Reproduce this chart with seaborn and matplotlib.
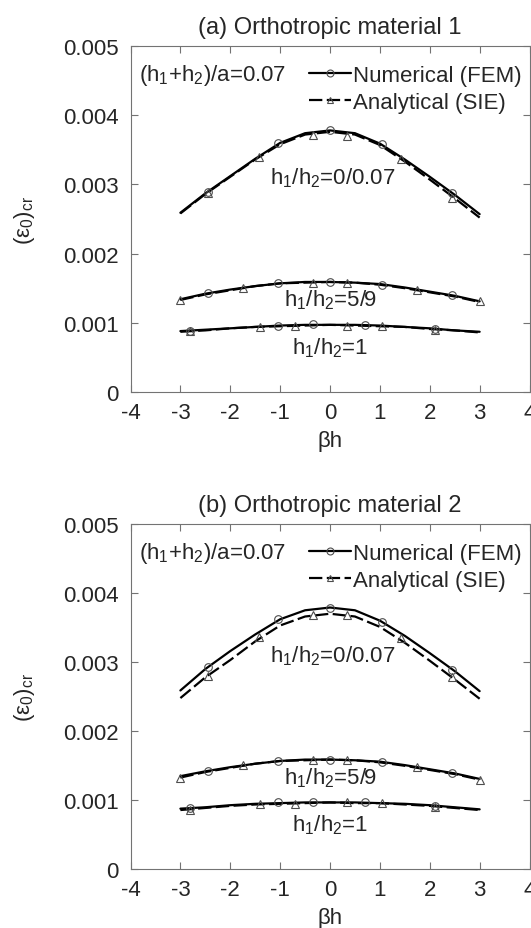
import seaborn as sns
import matplotlib.pyplot as plt
from matplotlib.lines import Line2D

# beta*h values where the curves were sampled
beta_h = [-3, -2.5, -2, -1.5, -1, -0.5, 0, 0.5, 1, 1.5, 2, 2.5, 3]

# (a) orthotropic material 1
a_fem_0 = [0.00259, 0.00287, 0.00312, 0.00337, 0.00360, 0.00374, 0.00378, 0.00374, 0.00359, 0.00336, 0.00311, 0.00285, 0.00257]
a_sie_0 = [0.00258, 0.00286, 0.00311, 0.00336, 0.00358, 0.00372, 0.00376, 0.00372, 0.00357, 0.00333, 0.00307, 0.00280, 0.00252]
a_fem_59 = [0.00134, 0.00142, 0.00148, 0.00153, 0.00157, 0.00159, 0.00159, 0.00158, 0.00156, 0.00151, 0.00145, 0.00139, 0.00131]
a_sie_59 = [0.00133, 0.00141, 0.00147, 0.00153, 0.00157, 0.00158, 0.00159, 0.00158, 0.00155, 0.00150, 0.00144, 0.00138, 0.00130]
a_fem_1 = [0.00088, 0.00090, 0.00092, 0.00094, 0.00096, 0.00097, 0.00097, 0.00097, 0.00096, 0.00094, 0.00092, 0.00089, 0.00087]
a_sie_1 = [0.00087, 0.00089, 0.00092, 0.00094, 0.00095, 0.00096, 0.00097, 0.00096, 0.00095, 0.00094, 0.00091, 0.00089, 0.00086]

# (b) orthotropic material 2
b_fem_0 = [0.00259, 0.00290, 0.00316, 0.00340, 0.00362, 0.00375, 0.00379, 0.00375, 0.00360, 0.00338, 0.00313, 0.00287, 0.00258]
b_sie_0 = [0.00248, 0.00278, 0.00303, 0.00330, 0.00353, 0.00366, 0.00370, 0.00366, 0.00351, 0.00328, 0.00302, 0.00275, 0.00247]
b_fem_59 = [0.00135, 0.00142, 0.00148, 0.00153, 0.00157, 0.00159, 0.00159, 0.00158, 0.00156, 0.00151, 0.00145, 0.00139, 0.00131]
b_sie_59 = [0.00133, 0.00141, 0.00147, 0.00153, 0.00157, 0.00158, 0.00159, 0.00158, 0.00155, 0.00150, 0.00144, 0.00138, 0.00130]
b_fem_1 = [0.00088, 0.00090, 0.00093, 0.00095, 0.00096, 0.00097, 0.00097, 0.00097, 0.00096, 0.00095, 0.00093, 0.00090, 0.00087]
b_sie_1 = [0.00086, 0.00089, 0.00092, 0.00094, 0.00095, 0.00096, 0.00097, 0.00096, 0.00096, 0.00094, 0.00092, 0.00089, 0.00086]

# marker points (FEM = circles, SIE = triangles)
fem_x_0 = [-2.45, -1.05, 0, 1.05, 2.45]
sie_x_0 = [-2.45, -1.42, -0.35, 0.35, 1.42, 2.45]
fem_x_59 = [-2.45, -1.05, 0, 1.05, 2.45]
sie_x_59 = [-3, -1.75, -0.35, 0.35, 1.75, 3]
fem_x_1 = [-2.8, -1.05, -0.35, 0.7, 2.1]
sie_x_1 = [-2.8, -1.4, -0.7, 0.35, 1.05, 2.1]

a_fem_pts_0 = [0.00289, 0.00360, 0.00379, 0.00358, 0.00287]
a_sie_pts_0 = [0.00287, 0.00340, 0.00372, 0.00370, 0.00336, 0.00280]
a_fem_pts_59 = [0.00143, 0.00157, 0.00159, 0.00155, 0.00140]
a_sie_pts_59 = [0.00133, 0.00150, 0.00158, 0.00158, 0.00148, 0.00131]
a_fem_pts_1 = [0.00088, 0.00095, 0.00098, 0.00097, 0.00091]
a_sie_pts_1 = [0.00088, 0.00094, 0.00095, 0.00096, 0.00096, 0.00090]

b_fem_pts_0 = [0.00293, 0.00362, 0.00379, 0.00358, 0.00289]
b_sie_pts_0 = [0.00280, 0.00336, 0.00368, 0.00368, 0.00335, 0.00279]
b_fem_pts_59 = [0.00142, 0.00157, 0.00159, 0.00156, 0.00140]
b_sie_pts_59 = [0.00133, 0.00151, 0.00159, 0.00158, 0.00148, 0.00130]
b_fem_pts_1 = [0.00089, 0.00097, 0.00097, 0.00097, 0.00092]
b_sie_pts_1 = [0.00086, 0.00095, 0.00095, 0.00097, 0.00096, 0.00091]

y_ticks = [0, 0.001, 0.002, 0.003, 0.004, 0.005]
y_labels = ['0', '0.001', '0.002', '0.003', '0.004', '0.005']
x_ticks = [-4, -3, -2, -1, 0, 1, 2, 3, 4]

sns.set_style('ticks')
plt.rcParams['font.family'] = ['Liberation Sans', 'DejaVu Sans']
plt.rcParams['mathtext.fontset'] = 'custom'
plt.rcParams['mathtext.rm'] = 'Liberation Sans'
plt.rcParams['mathtext.it'] = 'Liberation Sans:italic'
plt.rcParams['mathtext.bf'] = 'Liberation Sans:bold'

FS = 16
GREY = '0.45'
DASH = (0, (6, 2))
MEC = '0.3'


def draw_panel(ax, title, fem, sie, fem_pts, sie_pts):
    for f_line, s_line in zip(fem, sie):
        sns.lineplot(x=beta_h, y=f_line, ax=ax, color='k', lw=1.6)
        sns.lineplot(x=beta_h, y=s_line, ax=ax, color='k', lw=1.6, linestyle=DASH)
    for xs, ys in zip([fem_x_0, fem_x_59, fem_x_1], fem_pts):
        sns.lineplot(x=xs, y=ys, ax=ax, linestyle='none', marker='o', markersize=5.5,
                     mfc='none', mec=MEC, mew=0.8, zorder=3)
    for xs, ys in zip([sie_x_0, sie_x_59, sie_x_1], sie_pts):
        sns.lineplot(x=xs, y=ys, ax=ax, linestyle='none', marker='^', markersize=5.5,
                     mfc='none', mec=MEC, mew=0.8, zorder=3)

    ax.set_xlim(-4, 4)
    ax.set_ylim(0, 0.005)
    ax.set_xticks(x_ticks)
    ax.set_xticklabels([str(v) for v in x_ticks], fontsize=FS)
    ax.set_yticks(y_ticks)
    ax.set_yticklabels(y_labels, fontsize=FS)
    ax.tick_params(direction='in', top=True, right=True, length=5, width=0.8,
                   color=GREY)
    ax.tick_params(axis='x', pad=7)
    ax.tick_params(axis='y', pad=8.5)
    for sp in ax.spines.values():
        sp.set_visible(True)
        sp.set_color(GREY)
        sp.set_linewidth(0.8)

    ax.set_title(title, fontsize=17, pad=9.5)
    ax.set_xlabel('βh', fontsize=FS)
    ax.xaxis.set_label_coords(0.5, -0.11)
    ax.set_ylabel('(ε$_0$)$_\\mathrm{cr}$', fontsize=FS)
    ax.yaxis.set_label_coords(-0.235, 0.5)

    ax.text(-3.82, 0.00459, '(h$_1$+h$_2$)/a=0.07', fontsize=FS, va='center')
    ax.text(-1.21, 0.00310, 'h$_1$/h$_2$=0/0.07', fontsize=FS, va='center')
    ax.text(-0.92, 0.00134, 'h$_1$/h$_2$=5/9', fontsize=FS, va='center')
    ax.text(-0.76, 0.00065, 'h$_1$/h$_2$=1', fontsize=FS, va='center')

    handles = [
        Line2D([], [], color='k', lw=1.6, marker='o', markersize=5, mfc='none', mec=MEC, mew=0.8),
        Line2D([], [], color='k', lw=1.6, linestyle=DASH, marker='^', markersize=5, mfc='none', mec=MEC, mew=0.8),
    ]
    ax.legend(handles, ['Numerical (FEM)', 'Analytical (SIE)'], loc='upper left',
              bbox_to_anchor=(0.447, 0.945), frameon=False, fontsize=FS,
              borderpad=0, borderaxespad=0, handlelength=1.9, handletextpad=0.1,
              labelspacing=0.28)


fig = plt.figure(figsize=(5.31, 9.29), dpi=100)
ax_a = fig.add_axes([0.2458, 0.5770, 0.7514, 0.3724])
ax_b = fig.add_axes([0.2458, 0.0630, 0.7514, 0.3720])

draw_panel(ax_a, '(a) Orthotropic material 1',
           [a_fem_0, a_fem_59, a_fem_1], [a_sie_0, a_sie_59, a_sie_1],
           [a_fem_pts_0, a_fem_pts_59, a_fem_pts_1], [a_sie_pts_0, a_sie_pts_59, a_sie_pts_1])
draw_panel(ax_b, '(b) Orthotropic material 2',
           [b_fem_0, b_fem_59, b_fem_1], [b_sie_0, b_sie_59, b_sie_1],
           [b_fem_pts_0, b_fem_pts_59, b_fem_pts_1], [b_sie_pts_0, b_sie_pts_59, b_sie_pts_1])

fig.savefig('out.png', dpi=100)
